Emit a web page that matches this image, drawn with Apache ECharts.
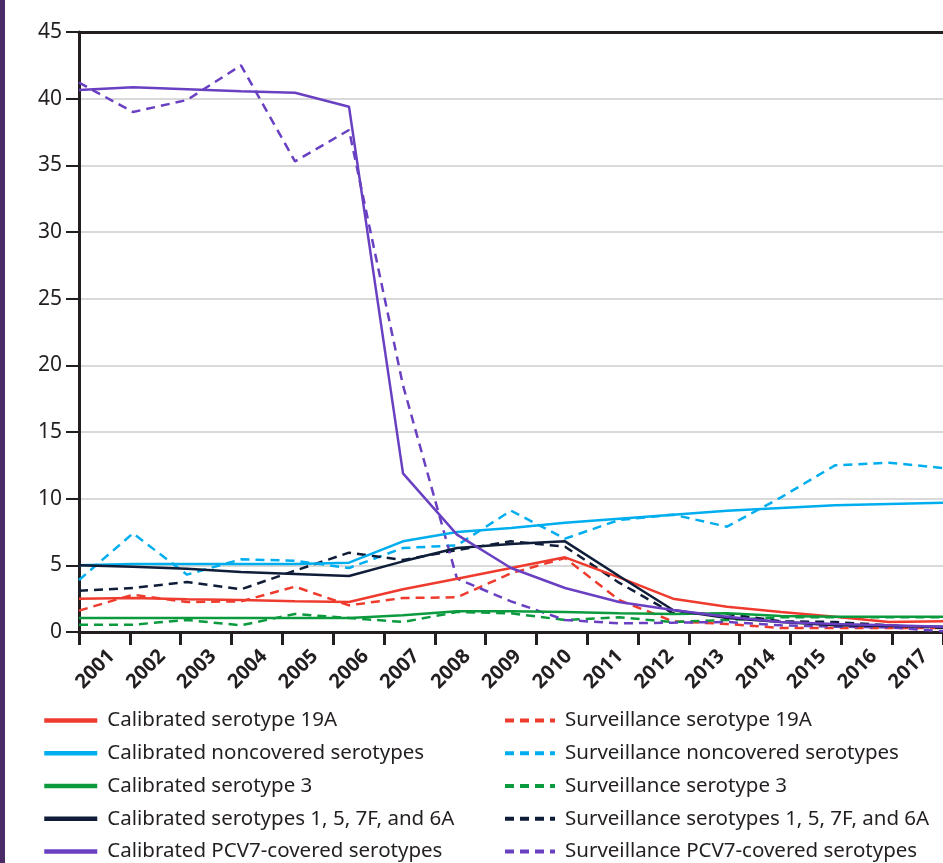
<!DOCTYPE html>
<html>
<head>
<meta charset="utf-8">
<script src="https://cdn.jsdelivr.net/npm/echarts@6/dist/echarts.min.js"></script>
<style>
html,body{margin:0;padding:0;background:#fff;}
#chart{width:943px;height:863px;}
</style>
</head>
<body>
<div id="chart"></div>
<script>
const years = ['2001','2002','2003','2004','2005','2006','2007','2008','2009','2010','2011','2012','2013','2014','2015','2016','2017'];
const yTicks = [0, 5, 10, 15, 20, 25, 30, 35, 40, 45];

const calib19A   = [2.5, 2.55, 2.45, 2.4, 2.3, 2.25, 3.2, 4.0, 4.8, 5.6, 4.1, 2.5, 1.9, 1.5, 1.15, 0.75, 0.8];
const surv19A    = [1.6, 2.8, 2.25, 2.3, 3.4, 2.0, 2.55, 2.6, 4.4, 5.55, 2.4, 0.8, 0.6, 0.3, 0.3, 0.3, 0.3];
const calibNon   = [5.0, 5.1, 5.1, 5.1, 5.1, 5.2, 6.8, 7.5, 7.8, 8.2, 8.5, 8.8, 9.1, 9.3, 9.5, 9.6, 9.7];
const survNon    = [3.9, 7.4, 4.3, 5.45, 5.35, 4.8, 6.3, 6.5, 9.1, 7.0, 8.4, 8.8, 7.9, 10.1, 12.5, 12.7, 12.3];
const calib3     = [1.05, 1.05, 1.05, 1.05, 1.05, 1.05, 1.25, 1.55, 1.55, 1.5, 1.4, 1.35, 1.4, 1.2, 1.15, 1.15, 1.15];
const surv3      = [0.55, 0.55, 0.9, 0.5, 1.35, 1.05, 0.75, 1.5, 1.4, 0.9, 1.1, 0.75, 0.9, 1.1, 1.1, 1.1, 1.1];
const calib157   = [5.0, 4.9, 4.75, 4.5, 4.35, 4.2, 5.3, 6.3, 6.6, 6.8, 4.2, 1.65, 1.05, 0.75, 0.5, 0.45, 0.4];
const surv157    = [3.1, 3.3, 3.75, 3.2, 4.6, 5.95, 5.4, 6.15, 6.8, 6.4, 3.7, 1.4, 1.35, 0.8, 0.75, 0.5, 0.3];
const calibPCV7  = [40.65, 40.85, 40.7, 40.55, 40.45, 39.4, 11.9, 7.3, 4.8, 3.3, 2.25, 1.65, 1.15, 0.75, 0.6, 0.5, 0.4];
const survPCV7   = [41.2, 39.0, 39.9, 42.5, 35.3, 37.65, 18.5, 4.0, 2.3, 0.9, 0.65, 0.7, 0.75, 0.5, 0.4, 0.35, 0.05];

const calibNames = ['Calibrated serotype 19A','Calibrated noncovered serotypes','Calibrated serotype 3','Calibrated serotypes 1, 5, 7F, and 6A','Calibrated PCV7-covered serotypes'];
const survNames  = ['Surveillance serotype 19A','Surveillance noncovered serotypes','Surveillance serotype 3','Surveillance serotypes 1, 5, 7F, and 6A','Surveillance PCV7-covered serotypes'];
const colors = ['#ee3b2e', '#00aeef', '#0c9a3e', '#0f1d38', '#6a40c2'];
const calibData = [calib19A, calibNon, calib3, calib157, calibPCV7];
const survData  = [surv19A, survNon, surv3, surv157, survPCV7];

const textColor = '#231f20';
const font = '"Noto Sans", "Open Sans", sans-serif';

const series = [];
for (let i = 0; i < 5; i++) {
  series.push({
    name: survNames[i], type: 'line', xAxisIndex: 1, symbol: 'none', data: survData[i],
    lineStyle: { color: colors[i], width: 2.5, type: [9, 6] }, itemStyle: { color: colors[i] },
    z: 2 + i
  });
}
for (let i = 0; i < 5; i++) {
  series.push({
    name: calibNames[i], type: 'line', xAxisIndex: 1, symbol: 'none', data: calibData[i],
    lineStyle: { color: colors[i], width: 2.5 }, itemStyle: { color: colors[i] },
    z: 10 + i
  });
}

const legendText = { color: textColor, fontFamily: font, fontSize: 20.5, lineHeight: 20, padding: [0, 0, 0, 5] };
const legends = [];
for (let i = 0; i < 5; i++) {
  const top = 710 + i * 32.75;
  legends.push({
    data: [calibNames[i]], orient: 'vertical', left: 42, top: top, padding: 0,
    itemWidth: 53, itemHeight: 20, itemStyle: { opacity: 0 }, lineStyle: { width: 4.5 },
    textStyle: legendText
  });
  legends.push({
    data: [survNames[i]], orient: 'vertical', left: 503, top: top, padding: 0,
    itemWidth: 50, itemHeight: 20, itemStyle: { opacity: 0 }, lineStyle: { width: 4 },
    textStyle: legendText
  });
}

const chart = echarts.init(document.getElementById('chart'), null, { renderer: 'canvas' });
chart.setOption({
  animation: false,
  backgroundColor: '#fff',
  color: colors,
  grid: { left: 79, top: 32, right: -3, bottom: 231, containLabel: false },
  xAxis: [
    {
      type: 'category', data: years, boundaryGap: true, position: 'bottom',
      axisLine: { show: true, lineStyle: { color: textColor, width: 3 } },
      axisTick: { show: true, length: 13, lineStyle: { color: textColor, width: 3 } },
      axisLabel: { rotate: 45, margin: 14, verticalAlign: 'top', color: textColor, fontFamily: font, fontWeight: 'bold', fontSize: 20, interval: 0 },
      splitLine: { show: false }
    },
    {
      type: 'category', data: years, boundaryGap: false, position: 'top',
      axisLine: { show: true, lineStyle: { color: textColor, width: 3 } },
      axisTick: { show: false }, axisLabel: { show: false }, splitLine: { show: false }
    }
  ],
  yAxis: {
    type: 'value', min: yTicks[0], max: yTicks[yTicks.length - 1], interval: 5,
    axisLine: { show: true, lineStyle: { color: textColor, width: 3 } },
    axisTick: { show: true, length: 13, lineStyle: { color: textColor, width: 2 } },
    axisLabel: { color: textColor, fontFamily: font, fontSize: 21, margin: 17 },
    splitLine: { show: true, lineStyle: { color: '#d9d9d9', width: 2 } }
  },
  legend: legends,
  graphic: [
    { type: 'rect', left: 0, top: 0, shape: { width: 5, height: 863 }, style: { fill: '#4b2a68' }, z: 100 }
  ],
  series: series
});
</script>
</body>
</html>
